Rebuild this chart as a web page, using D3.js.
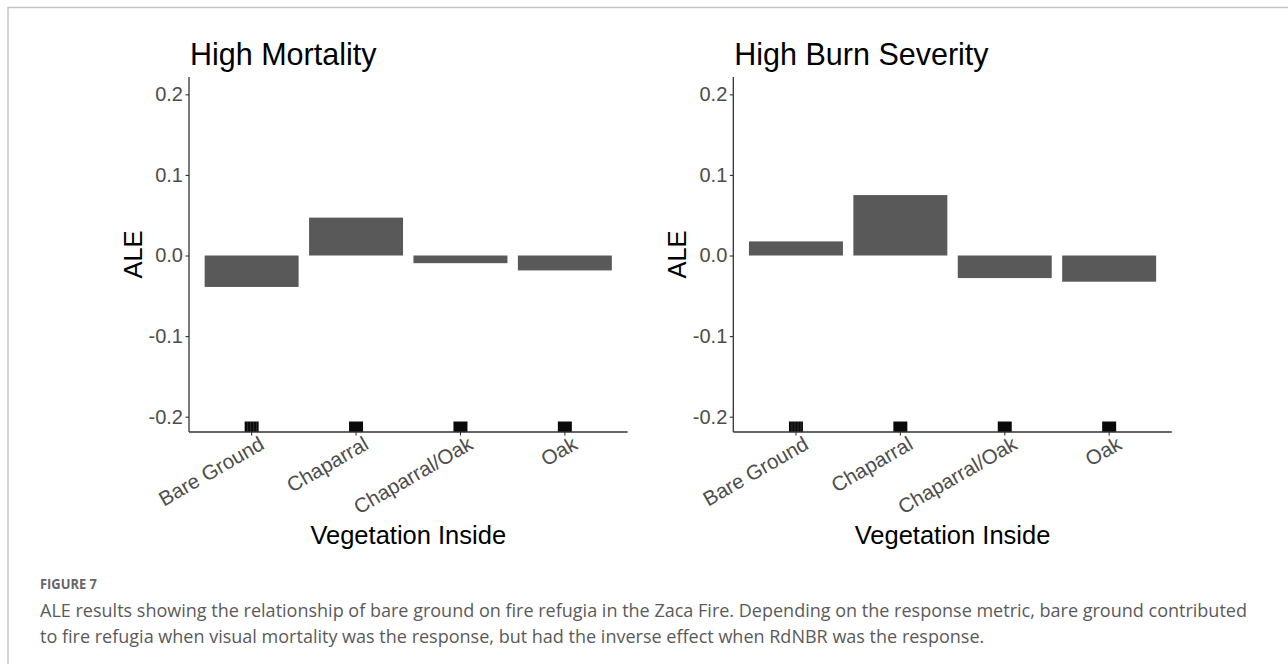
<!DOCTYPE html>
<html>
<head>
<meta charset="utf-8">
<script src="https://cdn.jsdelivr.net/npm/d3@7"></script>
<style>
  html, body { margin: 0; padding: 0; background: #fff; }
  svg { display: block; }
</style>
</head>
<body>
<svg id="chart" width="1288" height="664"></svg>
<script>
// ---- data ----
const categories = ["Bare Ground", "Chaparral", "Chaparral/Oak", "Oak"];
const mortalityALE = [-0.039, 0.047, -0.0095, -0.0185];
const burnSeverityALE = [0.0175, 0.075, -0.028, -0.0325];
const yTicks = [-0.2, -0.1, 0.0, 0.1, 0.2];
const panelTitles = ["High Mortality", "High Burn Severity"];
const xTitle = "Vegetation Inside";
const yTitle = "ALE";
const figLabel = "FIGURE 7";
const captionLines = [
  "ALE results showing the relationship of bare ground on fire refugia in the Zaca Fire. Depending on the response metric, bare ground contributed",
  "to fire refugia when visual mortality was the response, but had the inverse effect when RdNBR was the response."
];

const svg = d3.select("#chart");
const chartFont = "'Liberation Sans', Arial, sans-serif";
const capFont = "'Open Sans', 'Noto Sans', sans-serif";

// frame
svg.append("line").attr("x1", 8).attr("x2", 1288).attr("y1", 7.5).attr("y2", 7.5)
  .attr("stroke", "#c4c4c4").attr("stroke-width", 1.5);
svg.append("line").attr("x1", 8).attr("x2", 8).attr("y1", 7).attr("y2", 664)
  .attr("stroke", "#c4c4c4").attr("stroke-width", 1.5);

const panels = [
  { left: 189, values: mortalityALE, title: panelTitles[0] },
  { left: 733.3, values: burnSeverityALE, title: panelTitles[1] }
];
const plotW = 438.5, plotTop = 77, plotBottom = 432;

panels.forEach(p => {
  const g = svg.append("g");
  const x = d3.scaleBand().domain(categories).range([p.left, p.left + plotW])
    .paddingInner(0.1).paddingOuter(0.15);
  const y = d3.scaleLinear().domain([-0.219, 0.2215]).range([plotBottom, plotTop]);

  // bars
  g.selectAll("rect.bar").data(categories).join("rect")
    .attr("class", "bar")
    .attr("x", d => x(d))
    .attr("width", x.bandwidth())
    .attr("y", (d, i) => y(Math.max(0, p.values[i])))
    .attr("height", (d, i) => Math.abs(y(p.values[i]) - y(0)))
    .attr("fill", "#595959");

  // rug marks
  g.selectAll("rect.rug").data(categories).join("rect")
    .attr("class", "rug")
    .attr("x", d => x(d) + x.bandwidth() / 2 - 7)
    .attr("width", 14)
    .attr("y", plotBottom - 10.5)
    .attr("height", 10.5)
    .attr("fill", "#0a0a0a");
  // texture on first rug
  const c0 = x(categories[0]) + x.bandwidth() / 2;
  [-4, -1, 2, 5].forEach(o => {
    g.append("line").attr("x1", c0 + o).attr("x2", c0 + o)
      .attr("y1", plotBottom - 10).attr("y2", plotBottom)
      .attr("stroke", "#3a3a3a").attr("stroke-width", 0.8);
  });

  // y axis
  const ya = g.append("g").attr("transform", `translate(${p.left},0)`)
    .call(d3.axisLeft(y).tickValues(yTicks).tickFormat(d => d.toFixed(1))
      .tickSize(3.5).tickPadding(2.5));
  ya.select(".domain").remove();
  ya.selectAll(".tick line").attr("stroke", "#333").attr("stroke-width", 1.1);
  ya.selectAll(".tick text").attr("font-family", chartFont).attr("font-size", 20)
    .attr("fill", "#4d4d4d");
  g.append("line").attr("x1", p.left).attr("x2", p.left).attr("y1", plotTop).attr("y2", plotBottom)
    .attr("stroke", "#333").attr("stroke-width", 1.3);

  // x axis
  const xa = g.append("g").attr("transform", `translate(0,${plotBottom})`)
    .call(d3.axisBottom(x).tickSize(3.5).tickPadding(0));
  xa.select(".domain").remove();
  xa.selectAll(".tick line").attr("stroke", "#333").attr("stroke-width", 1.1);
  xa.selectAll(".tick text")
    .attr("font-family", chartFont).attr("font-size", 20.5).attr("fill", "#4d4d4d")
    .attr("text-anchor", "end")
    .attr("dy", null)
    .attr("y", 0)
    .attr("transform", "translate(14,16) rotate(-30)");
  g.append("line").attr("x1", p.left).attr("x2", p.left + plotW).attr("y1", plotBottom).attr("y2", plotBottom)
    .attr("stroke", "#333").attr("stroke-width", 1.3);

  // titles
  g.append("text").attr("x", p.left + 1).attr("y", 65).text(p.title)
    .attr("font-family", chartFont).attr("font-size", 30.5).attr("fill", "#000");
  g.append("text").attr("x", p.left + plotW / 2).attr("y", 544).text(xTitle)
    .attr("text-anchor", "middle")
    .attr("font-family", chartFont).attr("font-size", 25.5).attr("fill", "#000");
  g.append("text")
    .attr("transform", `translate(${p.left - 47},${(plotTop + plotBottom) / 2}) rotate(-90)`)
    .attr("text-anchor", "middle").text(yTitle)
    .attr("font-family", chartFont).attr("font-size", 25.5).attr("fill", "#000");
});

// caption
svg.append("text").attr("x", 40).attr("y", 589).text(figLabel)
  .attr("font-family", capFont).attr("font-weight", 700).attr("font-size", 14)
  .attr("textLength", 57).attr("lengthAdjust", "spacingAndGlyphs")
  .attr("fill", "#666");

const capG = svg.append("g");
const l1 = capG.append("text").attr("x", 40).attr("y", 616.5).text(captionLines[0])
  .attr("font-family", capFont).attr("font-size", 16).attr("fill", "#5a5a5a");
const w1 = l1.node().getComputedTextLength();
const fs = 16 * 1208 / w1;
l1.attr("font-size", fs);
capG.append("text").attr("x", 40).attr("y", 642.5).text(captionLines[1])
  .attr("font-family", capFont).attr("font-size", fs).attr("fill", "#5a5a5a");
</script>
</body>
</html>
